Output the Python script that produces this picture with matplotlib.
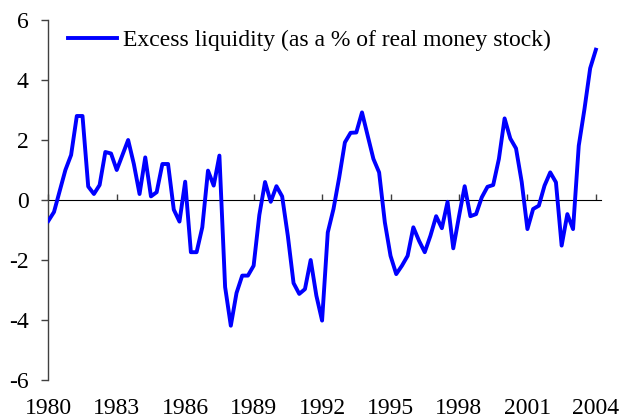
import matplotlib
matplotlib.use("Agg")
import matplotlib.pyplot as plt
import numpy as np

# Quarterly values, 1980Q1 .. 2004Q1
values = [
    -0.70, -0.40, 0.30, 1.00, 1.50, 2.80, 2.80, 0.45, 0.20, 0.50,
    1.60, 1.55, 1.00, 1.50, 2.00, 1.20, 0.20, 1.42, 0.12, 0.26,
    1.20, 1.20, -0.32, -0.72, 0.61, -1.74, -1.74, -0.91, 0.98, 0.48,
    1.48, -2.90, -4.19, -3.10, -2.52, -2.52, -2.19, -0.50, 0.60, -0.06,
    0.46, 0.12, -1.20, -2.77, -3.13, -2.97, -2.00, -3.19, -4.02, -1.08,
    -0.30, 0.75, 1.92, 2.24, 2.25, 2.92, 2.14, 1.37, 0.92, -0.74,
    -1.86, -2.47, -2.19, -1.86, -0.91, -1.36, -1.74, -1.19, -0.54, -0.94,
    -0.06, -1.61, -0.55, 0.46, -0.54, -0.47, 0.09, 0.44, 0.50, 1.37,
    2.72, 2.05, 1.72, 0.60, -0.97, -0.30, -0.19, 0.48, 0.92, 0.59,
    -1.52, -0.47, -0.97, 1.81, 3.03, 4.39, 5.01,
]
year_labels = ["1980", "1983", "1986", "1989", "1992", "1995", "1998", "2001", "2004"]
label_every = 12  # quarters
yticks = [-6, -4, -2, 0, 2, 4, 6]
series_name = "Excess liquidity (as a % of real money stock)"

plt.rcParams["font.family"] = ["Liberation Serif", "DejaVu Serif"]
plt.rcParams["axes.unicode_minus"] = False
FS = 17

fig = plt.figure(figsize=(6.19, 4.20), dpi=100)
ax = fig.add_axes([48 / 619, 1 - 380 / 420, (601 - 48) / 619, 360 / 420])

x = np.arange(len(values))
ax.plot(x, values, color="#0000FF", lw=2.8, solid_joinstyle="round", label=series_name, zorder=3)

ax.set_ylim(-6, 6)
ax.set_xlim(-0.05, 96.9)

ax.set_yticks(yticks)
ax.set_yticklabels([str(v) for v in yticks], fontsize=FS)
ax.tick_params(axis="y", direction="out", length=5, width=1, color="#404040", pad=9)

tick_pos = np.arange(len(year_labels)) * label_every
ax.set_xticks(tick_pos)
ax.set_xticklabels(year_labels, fontsize=FS)
ax.tick_params(axis="x", length=0, pad=13)

for s in ["top", "right", "bottom"]:
    ax.spines[s].set_visible(False)
ax.spines["left"].set_color("#404040")
ax.spines["left"].set_linewidth(1.0)

# zero axis line with tick marks
sec = ax.secondary_xaxis(0.5)
sec.set_xticks(tick_pos)
sec.set_xticklabels([])
sec.tick_params(direction="out", length=4, width=1, color="#404040")
sec.spines["bottom"].set_color("black")
sec.spines["bottom"].set_linewidth(1.3)
sec.set_zorder(1)

leg = ax.legend(loc="center left", bbox_to_anchor=(0.036, 0.944), frameon=False,
                fontsize=FS, handlelength=2.1, handletextpad=0.25,
                borderpad=0, borderaxespad=0)

fig.savefig("out.png", dpi=100)
